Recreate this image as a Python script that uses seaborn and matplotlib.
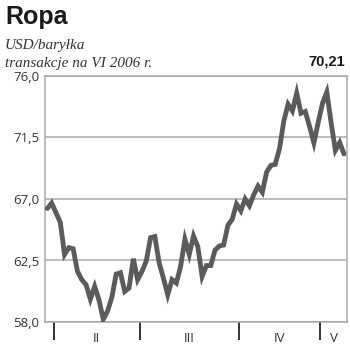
import matplotlib
matplotlib.use("Agg")
import matplotlib.pyplot as plt
import seaborn as sns
import pandas as pd
from matplotlib.ticker import FixedLocator, NullFormatter, FixedFormatter

# Daily oil price (USD/barrel), trading-day index
prices = [66.31, 66.70, 66.00, 65.30, 62.94, 63.44, 63.36, 61.71, 61.10, 60.73,
          59.67, 60.60, 59.62, 58.20, 58.80, 59.80, 61.50, 61.60, 60.24, 60.49,
          62.63, 61.10, 61.70, 62.45, 64.17, 64.25, 62.33, 61.20, 59.99, 61.10,
          60.85, 62.08, 64.05, 62.94, 64.29, 63.51, 61.34, 62.13, 62.13, 63.26,
          63.56, 63.63, 65.08, 65.52, 66.63, 66.14, 67.00, 66.51, 67.30, 67.94,
          67.49, 68.97, 69.46, 69.53, 70.69, 72.70, 73.93, 73.44, 74.75, 73.27,
          73.40, 72.30, 71.11, 72.60, 74.00, 74.82, 72.60, 70.56, 71.13, 70.30]
days = list(range(len(prices)))

month_boundaries = [1.5, 21.5, 44.5, 63.5]
month_labels = ["II", "III", "IV", "V"]
y_ticks = [58.0, 62.5, 67.0, 71.5, 76.0]
y_labels = ["58,0", "62,5", "67,0", "71,5", "76,0"]

title = "Ropa"
subtitle1 = "USD/baryłka"
subtitle2 = "transakcje na VI 2006 r."
last_value = "70,21"

sns.set_style("white")
plt.rcParams["font.family"] = ["Open Sans", "DejaVu Sans"]

df = pd.DataFrame({"day": days, "price": prices})

fig = plt.figure(figsize=(3.5, 3.55), dpi=100)
ax = fig.add_axes([45 / 350, 33 / 355, 302 / 350, 246 / 355])

grid_c = "#a9a9a9"
for yv in y_ticks:
    ax.axhline(yv, color=grid_c, lw=1.1, zorder=1)

sns.lineplot(data=df, x="day", y="price", ax=ax, color="#5b5b5b", lw=3.5,
             zorder=3, solid_joinstyle="miter")

xmax = 69.7
ax.set_xlim(-0.55, xmax)
ax.set_ylim(58.0, 76.0)

for s in ax.spines.values():
    s.set_color(grid_c)
    s.set_linewidth(1.1)

ax.set_yticks(y_ticks)
ax.set_yticklabels(y_labels)
ax.tick_params(axis="y", length=0, pad=4, labelsize=9.5, labelcolor="#333333")

edges = month_boundaries + [xmax]
mids = [(edges[i] + edges[i + 1]) / 2 for i in range(len(month_labels))]
ax.xaxis.set_major_locator(FixedLocator(month_boundaries))
ax.xaxis.set_major_formatter(NullFormatter())
ax.xaxis.set_minor_locator(FixedLocator(mids))
ax.xaxis.set_minor_formatter(FixedFormatter(month_labels))
ax.tick_params(axis="x", which="major", bottom=True, direction="out",
               length=13, width=1.4, color="#333333")
ax.tick_params(axis="x", which="minor", bottom=True, length=0, pad=7,
               labelsize=9.5, labelcolor="#333333")
ax.set_xlabel("")
ax.set_ylabel("")

fig.text(5 / 350, 1 - 17 / 355, title, fontsize=18, fontweight="bold",
         family="Liberation Sans", color="#1a1a1a", va="center", ha="left")
fig.text(5 / 350, 1 - 45 / 355, subtitle1, fontsize=11, style="italic",
         family="Liberation Serif", color="#333333", va="center", ha="left")
fig.text(5 / 350, 1 - 63 / 355, subtitle2, fontsize=11, style="italic",
         family="Liberation Serif", color="#333333", va="center", ha="left")
fig.text(345 / 350, 1 - 62 / 355, last_value, fontsize=10.5, fontweight="bold",
         family="Liberation Sans", color="#1a1a1a", va="center", ha="right")

fig.savefig("out.png", dpi=100)
